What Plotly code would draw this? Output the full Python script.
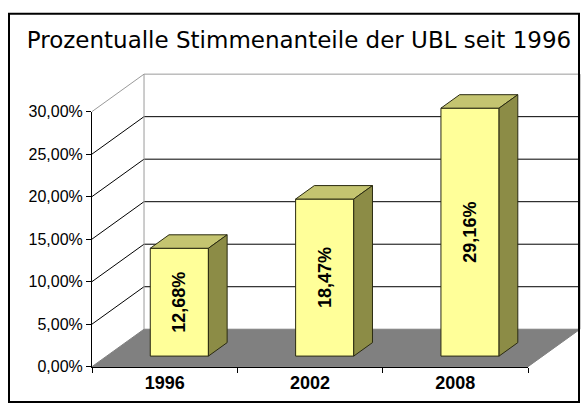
import plotly.graph_objects as go

# ---- data ----
years = ["1996", "2002", "2008"]
shares = [12.68, 18.47, 29.16]
share_labels = ["12,68%", "18,47%", "29,16%"]
y_ticks = [0, 5, 10, 15, 20, 25, 30]
y_tick_labels = ["0,00%", "5,00%", "10,00%", "15,00%", "20,00%", "25,00%", "30,00%"]
title_text = "Prozentualle Stimmenanteile der UBL seit 1996"

# ---- 3D look (style / geometry) ----
DX, DY = 0.358, 4.4        # full depth of the floor in x units / percentage points
F0, F1 = 0.282, 0.642      # bar front / back depth fractions
BW = 0.4                   # bar width (x units)
XLO, XHI = -0.5, len(years) - 0.5
YMAX = y_ticks[-1]

FRONT = "#FFFF99"
TOP = "#C4C470"
SIDE = "#8C8C46"
EDGE = "#2a2a10"
FLOOR = "#808080"
WALL_EDGE = "#9a9a9a"

W, H = 581, 414
# pixel frame of the front plane
PX_L, PX_R, PX_B, PX_T = 92, 528, 374, 108
ux = (PX_R - PX_L) / len(years)          # px per x unit
uy = (PX_B - PX_T) / YMAX                # px per percent
x_c0 = PX_L + ux * 0.5
x_range = [(0 - x_c0) / ux, (W - x_c0) / ux]
y_range = [(PX_B - H) / uy, PX_B / uy]


def P(x, y, f):
    return x + DX * f, y + DY * f


def path(pts):
    return "M " + " L ".join(f"{x:.5f},{y:.5f}" for x, y in pts) + " Z"


shapes = []
# floor
shapes.append(dict(type="path", xref="x", yref="y", layer="below",
                   path=path([P(XLO, 0, 0), P(XHI, 0, 0), P(XHI, 0, 1), P(XLO, 0, 1)]),
                   fillcolor=FLOOR, line=dict(color=FLOOR, width=1)))
# back wall gridlines and side-wall diagonals
for v in y_ticks[1:]:
    col = WALL_EDGE if v == YMAX else "black"
    (ax, ay), (bx, by) = P(XLO, v, 1), P(XHI, v, 1)
    shapes.append(dict(type="line", xref="x", yref="y", layer="below",
                       x0=ax, y0=ay, x1=bx, y1=by, line=dict(color=col, width=1)))
    (cx, cy) = P(XLO, v, 0)
    shapes.append(dict(type="line", xref="x", yref="y", layer="below",
                       x0=cx, y0=cy, x1=ax, y1=ay, line=dict(color=col, width=1)))
# back wall vertical edges
for xe in (XLO, XHI):
    (ax, ay), (bx, by) = P(xe, 0, 1), P(xe, YMAX, 1)
    shapes.append(dict(type="line", xref="x", yref="y", layer="below",
                       x0=ax, y0=ay, x1=bx, y1=by, line=dict(color=WALL_EDGE, width=1)))
# outer frame
shapes.append(dict(type="rect", xref="paper", yref="paper", layer="above",
                   x0=9 / W, x1=579 / W, y0=(H - 411) / H, y1=(H - 6) / H,
                   line=dict(color="black", width=2)))

fig = go.Figure()

# front faces of the bars
fig.add_trace(go.Bar(
    x=[i + DX * F0 for i in range(len(years))], y=shares, base=DY * F0, width=BW,
    marker=dict(color=FRONT, line=dict(color=EDGE, width=1)),
    text=share_labels, textposition="inside", insidetextanchor="middle",
    textangle=-90, constraintext="none",
    textfont=dict(family="Liberation Sans, Arial", size=18, color="black", weight="bold"),
    hoverinfo="skip", showlegend=False, xaxis="x", yaxis="y"))

# top and side faces
for i, v in enumerate(shares):
    xl, xr = i - BW / 2, i + BW / 2
    top = [P(xl, v, F0), P(xr, v, F0), P(xr, v, F1), P(xl, v, F1), P(xl, v, F0)]
    side = [P(xr, 0, F0), P(xr, 0, F1), P(xr, v, F1), P(xr, v, F0), P(xr, 0, F0)]
    for pts, col in ((top, TOP), (side, SIDE)):
        fig.add_trace(go.Scatter(
            x=[p[0] for p in pts], y=[p[1] for p in pts], mode="lines",
            fill="toself", fillcolor=col, line=dict(color=EDGE, width=1),
            hoverinfo="skip", showlegend=False, xaxis="x", yaxis="y"))

# invisible trace carrying the front axes
fig.add_trace(go.Scatter(x=years, y=shares, mode="markers", marker=dict(opacity=0),
                         hoverinfo="skip", showlegend=False, xaxis="x2", yaxis="y2"))

fig.update_layout(
    width=W, height=H, margin=dict(l=0, r=0, t=0, b=0),
    paper_bgcolor="white", plot_bgcolor="rgba(0,0,0,0)",
    showlegend=False,
    title=dict(text=title_text, x=299 / W, xanchor="center", xref="paper",
               y=(H - 40) / H, yanchor="middle", yref="container",
               font=dict(family="DejaVu Sans", size=23, color="black")),
    xaxis=dict(domain=[0, 1], range=x_range, visible=False, fixedrange=True),
    yaxis=dict(domain=[0, 1], range=y_range, visible=False, fixedrange=True),
    xaxis2=dict(domain=[PX_L / W, PX_R / W], anchor="y2", type="category",
                range=[-0.5, len(years) - 0.5], tickson="boundaries",
                ticks="outside", ticklen=5, tickcolor="black",
                showline=True, linecolor="black", linewidth=1, showgrid=False,
                tickfont=dict(family="Liberation Sans, Arial", size=18, color="black",
                              weight="bold"), fixedrange=True),
    yaxis2=dict(domain=[(H - PX_B) / H, (H - PX_T) / H], anchor="x2",
                range=[0, YMAX], tickvals=y_ticks, ticktext=y_tick_labels,
                ticks="outside", ticklen=5, tickcolor="black",
                showline=True, linecolor="black", linewidth=1, showgrid=False,
                zeroline=False,
                tickfont=dict(family="Liberation Sans, Arial", size=16, color="black"),
                fixedrange=True),
    shapes=shapes,
)

fig.write_html("out.html", config={"displayModeBar": False},
               post_script="document.body.style.margin='0';"
                           "document.body.style.padding='0';"
                           "document.documentElement.style.overflow='hidden';")
